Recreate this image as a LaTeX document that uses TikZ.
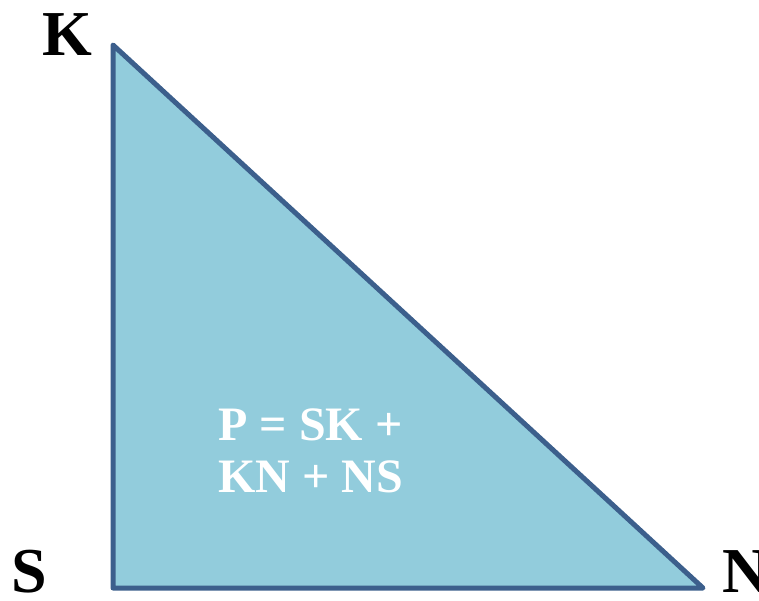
\documentclass[tikz,border=0pt]{standalone}
\usepackage{fontspec}
\setmainfont{Liberation Serif}
\usepackage{xcolor}
\usetikzlibrary{positioning}
\definecolor{EdgeBlue}{HTML}{3C5F8C}
\definecolor{SkyFill}{HTML}{92CCDC}

\begin{document}
\begin{tikzpicture}[x=0.5pt, y=-0.5pt,
        tri/.style={draw=EdgeBlue, line width=2.5pt, fill=SkyFill, line join=round},
        vlabel/.style={font=\fontsize{32}{32}\selectfont\bfseries, inner sep=0pt},
        inner/.style={font=\fontsize{24}{26}\selectfont\bfseries, text=white, align=left, inner sep=0pt}]
        \useasboundingbox (0,0) rectangle (759,600);
        \coordinate (K) at (113,45);
        \coordinate (S) at (113,588);
        \coordinate (N) at (703,588);
        \draw[tri] (K) -- (S) -- (N) -- cycle;
        \node[vlabel, anchor=base] (lk) at (67,55) {K};
        \node[vlabel, anchor=base] (ls) at (29,592) {S};
        \node[vlabel, anchor=base west] (ln) at (722,592) {N};
        \node[inner, anchor=north west] (per) at (218,408) {P = SK +\\KN + NS};
      \end{tikzpicture}
\end{document}
